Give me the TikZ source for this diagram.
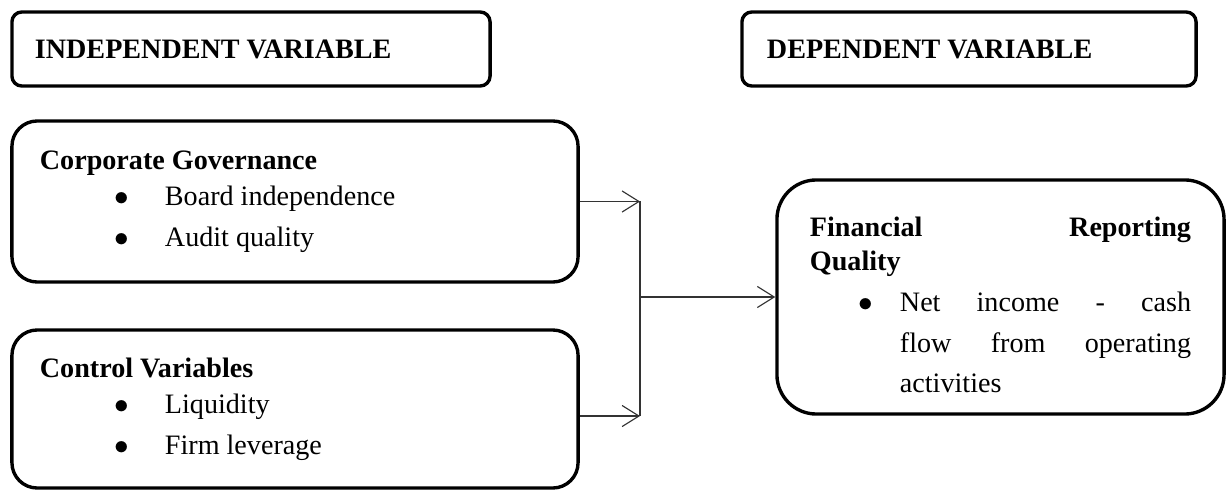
\documentclass[tikz,border=0pt]{standalone}
\usepackage{fontspec}
\setmainfont{Liberation Serif}
\usepackage{tikz}
\usetikzlibrary{positioning,shapes,arrows,arrows.meta}
\setlength{\parindent}{0pt}
\newcommand{\boxhead}[1]{{\fontsize{20pt}{24pt}\selectfont\bfseries #1\par}}
\newcommand{\bitem}[3]{\par\hangindent=#1\hangafter=0\noindent\llap{$\bullet$\hspace{#2}}#3\par}

\begin{document}
\begin{tikzpicture}[x=0.025cm,y=-0.025cm]
\tikzstyle{every node}+=[font=\fontsize{20pt}{29pt}\selectfont]
\tikzstyle{varbox}=[draw=black, line width=2.4pt, align=justify, inner ysep=2pt]
\tikzstyle{arr}=[draw=black!80, line width=0.8pt, -{Straight Barb[length=12pt,width=15pt]}]
\useasboundingbox (0,0) rectangle (1231,492);
\node[varbox, rounded corners=7pt, minimum width=11.95cm, minimum height=1.85cm, text width=10.8cm, inner xsep=0.575cm] (indep) at (251,49) {\textbf{INDEPENDENT VARIABLE}};
\node[varbox, rounded corners=7pt, minimum width=11.35cm, minimum height=1.85cm, text width=10.1cm, inner xsep=0.625cm] (dep) at (969,49) {\textbf{DEPENDENT VARIABLE}};
\node[varbox, rounded corners=18pt, minimum width=14.15cm, minimum height=4.025cm, text width=12.75cm, inner xsep=0.7cm] (cg) at (295,201.5) {\boxhead{Corporate Governance}\vspace{-3.5pt}
\bitem{88.9pt}{25.5pt}{Board independence}
\bitem{88.9pt}{25.5pt}{Audit quality}};
\node[varbox, rounded corners=18pt, minimum width=14.15cm, minimum height=3.95cm, text width=12.75cm, inner xsep=0.7cm] (cv) at (295,409) {\boxhead{Control Variables}\vspace{-3.5pt}
\bitem{88.9pt}{25.5pt}{Liquidity}
\bitem{88.9pt}{25.5pt}{Firm leverage}};
\node[varbox, rounded corners=28pt, minimum width=11.175cm, minimum height=5.85cm, text width=9.525cm, inner xsep=0.825cm] (frq) at (1000.5,297) {\par\vspace{1.5pt}\boxhead{Financial Reporting\linebreak Quality}
\bitem{64pt}{19pt}{Net income - cash\linebreak flow from operating\linebreak activities}};
% connectors
\coordinate (join) at (640,297);
\draw[arr] (cg.east) -- (cg.east -| join);
\draw[arr] ([yshift=-5pt]cv.east) -- ([yshift=-5pt]cv.east -| join);
\draw[draw=black!80, line width=0.8pt] (cg.east -| join) -- ([yshift=-5pt]cv.east -| join);
\draw[arr] (join) -- (frq.west);
\end{tikzpicture}
\end{document}
